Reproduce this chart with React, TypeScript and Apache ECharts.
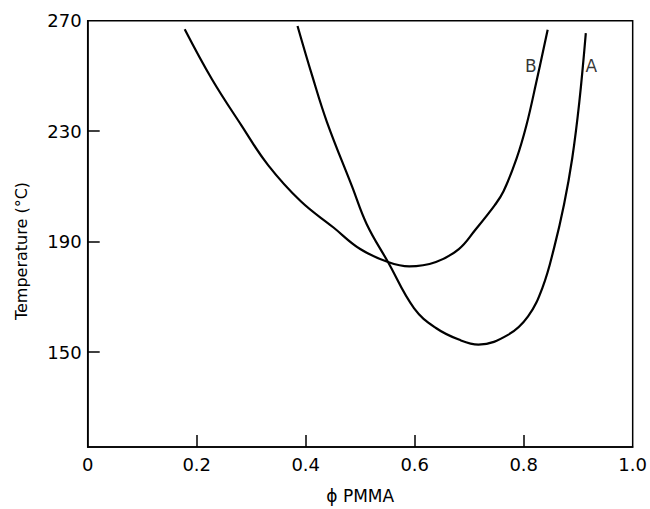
import React, { useEffect, useRef } from "react";
import * as echarts from "echarts";

const curveAX = [0.385, 0.412, 0.439, 0.485, 0.512, 0.551, 0.599, 0.639, 0.681, 0.717, 0.772, 0.808, 0.835, 0.856, 0.874, 0.889, 0.902, 0.914];
const curveAY = [268.1, 250, 233.3, 210, 196.3, 182.6, 165.8, 158.7, 154.5, 152.7, 156.3, 162.9, 173.6, 187.9, 203.4, 220.1, 240.4, 265.5];
const curveBX = [0.178, 0.228, 0.282, 0.331, 0.391, 0.451, 0.5, 0.551, 0.59, 0.639, 0.681, 0.711, 0.747, 0.763, 0.787, 0.805, 0.823, 0.844];
const curveBY = [266.9, 248.8, 232.1, 217.7, 204.6, 195.1, 187.3, 182.6, 181, 182.6, 187.3, 194.2, 203.2, 208.2, 220.1, 232.1, 247.6, 266.7];
const curveLabels = ["A", "B"];
const labelX = [0.924, 0.813];
const labelY = [253.5, 253.5];
const yTickValues = [150, 190, 230, 270];
const xTickValues = [0, 0.2, 0.4, 0.6, 0.8, 1.0];

const FONT = "DejaVu Sans";

export default function App() {
  const ref = useRef<HTMLDivElement>(null);
  useEffect(() => {
    const chart = echarts.init(ref.current!, null, { renderer: "svg" });
    const zip = (xs: number[], ys: number[]) => xs.map((x, i) => [x, ys[i]]);
    chart.setOption({
      animation: false,
      backgroundColor: "#fff",
      grid: {
        left: 87.7,
        right: 10.7,
        top: 20.7,
        bottom: 57,
        show: true,
        borderColor: "#000",
        borderWidth: 1.5,
        backgroundColor: "transparent",
      },
      xAxis: {
        type: "value",
        min: 0,
        max: 1,
        name: "ϕ PMMA",
        nameLocation: "middle",
        nameGap: 40,
        nameTextStyle: { fontFamily: FONT, fontSize: 17, color: "#000", verticalAlign: "top" },
        axisLine: { show: true, lineStyle: { color: "#000", width: 1.5 } },
        axisTick: { show: true, inside: true, length: 12, customValues: [0.2, 0.4, 0.6, 0.8], lineStyle: { color: "#000", width: 1.5 } },
        axisLabel: {
          customValues: xTickValues,
          fontFamily: FONT,
          fontSize: 18,
          color: "#000",
          margin: 8,
          formatter: (v: number) => (v === 0 ? "0" : v.toFixed(1)),
        },
        splitLine: { show: false },
      },
      yAxis: {
        type: "value",
        min: 115.6,
        max: 270,
        axisLine: { show: true, lineStyle: { color: "#000", width: 1.5 } },
        axisTick: { show: true, inside: true, length: 12, customValues: [150, 190, 230], lineStyle: { color: "#000", width: 1.5 } },
        axisLabel: {
          customValues: yTickValues,
          fontFamily: FONT,
          fontSize: 18,
          color: "#000",
          margin: 6,
        },
        splitLine: { show: false },
      },
      graphic: [
        {
          type: "text",
          x: 21,
          y: 251,
          rotation: Math.PI / 2,
          style: {
            text: "Temperature (°C)",
            fontFamily: FONT,
            fontSize: 16,
            fill: "#000",
            align: "center",
            verticalAlign: "middle",
          },
        },
      ],
      series: [
        {
          name: "A",
          type: "line",
          data: zip(curveAX, curveAY),
          smooth: 0.4,
          symbol: "none",
          lineStyle: { color: "#000", width: 2.2 },
        },
        {
          name: "B",
          type: "line",
          data: zip(curveBX, curveBY),
          smooth: 0.4,
          symbol: "none",
          lineStyle: { color: "#000", width: 2.2 },
        },
        {
          name: "labels",
          type: "scatter",
          symbolSize: 0,
          data: curveLabels.map((t, i) => ({ value: [labelX[i], labelY[i]], name: t })),
          label: {
            show: true,
            position: "inside",
            formatter: (p: any) => p.name,
            fontFamily: FONT,
            fontSize: 17,
            color: "#000",
          },
        },
      ],
    });
    return () => chart.dispose();
  }, []);
  return <div ref={ref} style={{ width: 650, height: 509, position: "absolute", left: 0, top: 0 }} />;
}
